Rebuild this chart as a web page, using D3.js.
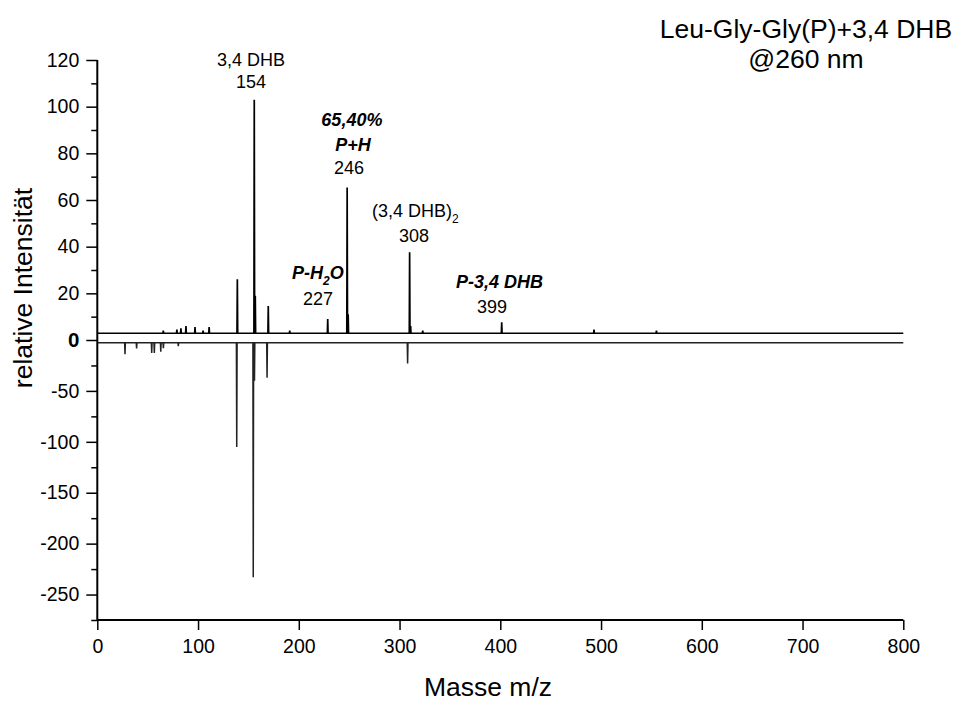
<!DOCTYPE html>
<html>
<head>
<meta charset="utf-8">
<script src="https://cdn.jsdelivr.net/npm/d3@7"></script>
<style>
  html, body { margin: 0; padding: 0; background: #fff; }
  svg { display: block; font-family: "Liberation Sans", Arial, sans-serif; }
</style>
</head>
<body>
<svg id="chart" width="956" height="701"></svg>
<script>
// ---------------- data ----------------
const xTicks = [0, 100, 200, 300, 400, 500, 600, 700, 800];
const yTopTicks = [0, 20, 40, 60, 80, 100, 120];
const yBotTicks = [-50, -100, -150, -200, -250];

// upper trace (relative intensity, baseline offset ~2.9)
const topBaseline = 2.9;
const topMz =  [65.5, 79, 83, 88, 97, 105, 111, 139, 155.8, 156.8, 169.7, 191, 228.7, 248, 249, 310, 311, 323, 401.4, 493, 555];
const topInt = [4,    4.5, 5, 6,  5.5, 4,   5.5, 26,  103,   19,    14.6,  4,   9,     65.4, 11, 37.6, 6,  4,   7.6,   4.5, 4];

// lower (mirrored) trace
const botBaseline = -2.7;
const botMz =  [27.5, 39,   54,    56.6,  63,    65.6, 80.4, 138.4, 154.8, 156, 168.5, 308];
const botInt = [-14,  -8.4, -12.7, -12.7, -11.6, -8,   -6,   -105,  -233,  -40, -37,   -23];

// annotations: [text parts, m/z anchor, intensity anchor (upper scale), style]
const annotations = [
  { parts: [["3,4 DHB", ""]], mz: 152.6, val: 117.5, bold: false, anchor: "middle" },
  { parts: [["154", ""]], mz: 152.6, val: 107.8, bold: false, anchor: "middle" },
  { parts: [["65,40%", ""]], mz: 252.7, val: 91.7, bold: true, anchor: "middle" },
  { parts: [["P+H", ""]], mz: 253.7, val: 81, bold: true, anchor: "middle" },
  { parts: [["246", ""]], mz: 249.8, val: 71.1, bold: false, anchor: "middle" },
  { parts: [["(3,4 DHB)", ""], ["2", "sub"]], mz: 272.6, val: 52.7, bold: false, anchor: "start" },
  { parts: [["308", ""]], mz: 314.3, val: 42, bold: false, anchor: "middle" },
  { parts: [["P-H", ""], ["2", "sub"], ["O", ""]], mz: 193.3, val: 26.1, bold: true, anchor: "start" },
  { parts: [["227", ""]], mz: 219, val: 15, bold: false, anchor: "middle" },
  { parts: [["P-3,4 DHB", ""]], mz: 356, val: 22.3, bold: true, anchor: "start" },
  { parts: [["399", ""]], mz: 391.7, val: 11.6, bold: false, anchor: "middle" }
];

const titleLines = ["Leu-Gly-Gly(P)+3,4 DHB", "@260 nm"];
const xTitle = "Masse m/z";
const yTitle = "relative Intensität";

// ---------------- layout ----------------
const svg = d3.select("#chart");
const x0 = 97.3, x1 = 903.3;
const yAxisTop = 60, yZero = 340, yAxisBot = 620;

const x = d3.scaleLinear().domain([0, 800]).range([x0, x1]);
const yTop = d3.scaleLinear().domain([0, 120]).range([yZero, yAxisTop]);
const yBot = d3.scaleLinear().domain([-275, 0]).range([yAxisBot, yZero]);

// ---------------- traces ----------------
function tracePoints(mz, vals, base) {
  const pts = [[0, base]];
  const idx = d3.range(mz.length).sort((a, b) => mz[a] - mz[b]);
  idx.forEach(i => {
    pts.push([mz[i] - 0.35, base]);
    pts.push([mz[i], vals[i]]);
    pts.push([mz[i] + 0.35, base]);
  });
  pts.push([800, base]);
  return pts;
}

const lineTop = d3.line().x(d => x(d[0])).y(d => yTop(d[1]));
const lineBot = d3.line().x(d => x(d[0])).y(d => yBot(d[1]));

svg.append("path")
  .attr("d", lineBot(tracePoints(botMz, botInt, botBaseline)))
  .attr("fill", "none").attr("stroke", "#222").attr("stroke-width", 1.5);

svg.append("path")
  .attr("d", lineTop(tracePoints(topMz, topInt, topBaseline)))
  .attr("fill", "none").attr("stroke", "#000").attr("stroke-width", 1.7);

// ---------------- axes ----------------
const axisColor = "#000";
const fmt = d => String(d);
// x axis
const gx = svg.append("g").attr("transform", `translate(0,${yAxisBot})`);
gx.call(d3.axisBottom(x).tickValues(d3.range(0, 801, 10)).tickSize(5).tickFormat(""))
  .call(g => g.select(".domain").remove());
gx.call(d3.axisBottom(x).tickValues(xTicks).tickSize(10).tickPadding(9).tickFormat(fmt));
gx.selectAll("text").attr("font-size", 19.5).attr("font-family", "'Liberation Sans', Arial, sans-serif").attr("fill", "#000");
gx.selectAll("line").attr("stroke", axisColor).attr("stroke-width", 1.5);
gx.selectAll(".domain").attr("stroke", axisColor).attr("stroke-width", 2).attr("d", `M${x0},0H${x1}`);

// y axis (two scales sharing one line)
const gy = svg.append("g").attr("transform", `translate(${x0},0)`);
gy.append("line").attr("x1", 0).attr("x2", 0).attr("y1", yAxisTop).attr("y2", yAxisBot)
  .attr("stroke", axisColor).attr("stroke-width", 2);

gy.append("g").call(d3.axisLeft(yTop).tickValues(d3.range(10, 120, 20)).tickSize(6).tickFormat(""));
const gyTop = gy.append("g").call(d3.axisLeft(yTop).tickValues(yTopTicks).tickSize(11).tickPadding(7).tickFormat(fmt));
gy.append("g").call(d3.axisLeft(yBot).tickValues(d3.range(-25, -276, -50)).tickSize(6).tickFormat(""));
gy.append("g").call(d3.axisLeft(yBot).tickValues(yBotTicks).tickSize(11).tickPadding(7).tickFormat(fmt));
gy.selectAll(".domain").remove();
gy.selectAll(".tick line").attr("stroke", axisColor).attr("stroke-width", 1.5);
gy.selectAll("text").attr("font-size", 19.5).attr("font-family", "'Liberation Sans', Arial, sans-serif").attr("fill", "#000");
gyTop.selectAll(".tick").filter(d => d === 0).select("text").attr("font-weight", "bold").attr("font-size", 20.5);

// ---------------- titles ----------------
svg.append("text").attr("x", 488).attr("y", 696)
  .attr("text-anchor", "middle").attr("font-size", 26.5).text(xTitle);
svg.append("text").attr("transform", "translate(32,288) rotate(-90)")
  .attr("text-anchor", "middle").attr("font-size", 26.5).text(yTitle);

svg.append("text").attr("x", 806).attr("y", 38).attr("text-anchor", "middle")
  .attr("font-size", 26.5).text(titleLines[0]);
svg.append("text").attr("x", 806).attr("y", 68).attr("text-anchor", "middle")
  .attr("font-size", 26.5).text(titleLines[1]);

// ---------------- annotations ----------------
annotations.forEach(a => {
  const t = svg.append("text")
    .attr("x", x(a.mz)).attr("y", yTop(a.val))
    .attr("text-anchor", a.anchor)
    .attr("font-size", 18)
    .attr("font-weight", a.bold ? "bold" : "normal")
    .attr("font-style", a.bold ? "italic" : "normal");
  a.parts.forEach((p, i) => {
    const ts = t.append("tspan").text(p[0]);
    if (p[1] === "sub") ts.attr("font-size", 12).attr("dy", 6);
    else if (i > 0 && a.parts[i - 1][1] === "sub") ts.attr("dy", -6);
  });
});
</script>
</body>
</html>
